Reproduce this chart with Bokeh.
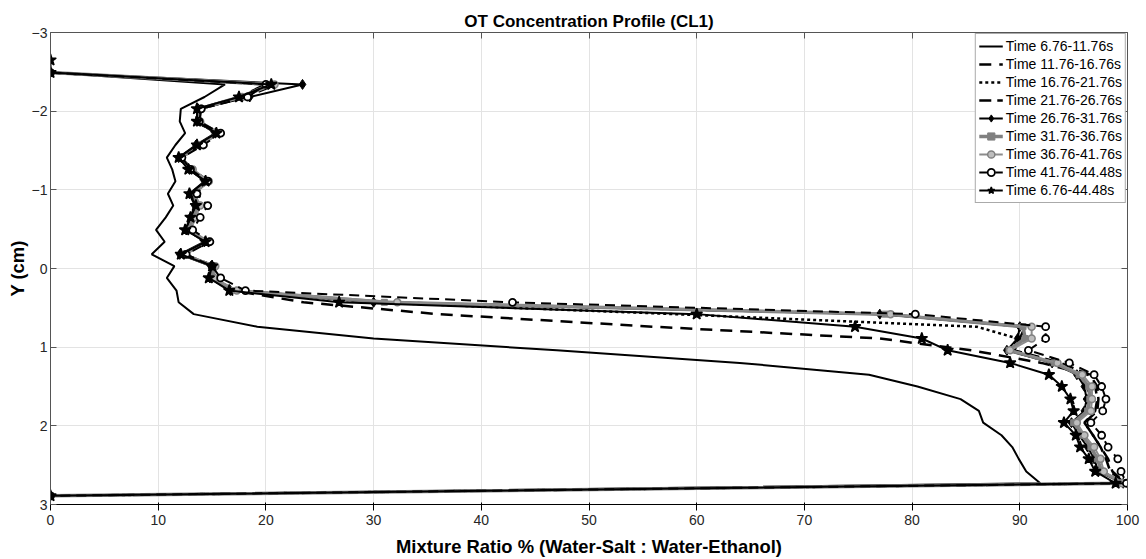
from bokeh.plotting import figure
from bokeh.models import Range1d, FixedTicker, LinearAxis, Legend, LegendItem
from bokeh.embed import file_html
from bokeh.resources import INLINE

nan = float("nan")

# Depth levels (cm), top to bottom
y_cm = [-2.65, -2.49, -2.34, -2.18, -2.03, -1.87, -1.72, -1.57, -1.41, -1.26,
        -1.11, -0.95, -0.80, -0.65, -0.49, -0.34, -0.18, -0.03, 0.12, 0.28,
        0.43, 0.58, 0.74, 0.89, 1.04, 1.20, 1.35, 1.50, 1.66, 1.81,
        1.96, 2.12, 2.27, 2.42, 2.58, 2.73, 2.89]

# Mixture ratio (%) per time window
t_06_11 = [nan, 0, 16.2, 14.3, 12.1, 12.0, 12.5, 11.6, 10.8, 11.3,
           11.6, 10.9, 11.4, 10.7, 9.8, 10.6, 9.4, 11.5, 10.8, 11.7,
           11.9, 13.3, 19.2, 30.0, 47.0, 64.0, 76.0, 80.5, 84.5, 86.2,
           86.6, 88.3, 89.3, 89.9, 90.6, 91.9, 0]
t_11_16 = [nan, 0, 20.0, 17.5, 13.8, 13.4, 15.6, 13.8, 12.1, 13.0,
           14.6, 13.1, 13.7, 13.2, 12.7, 14.6, 12.3, 15.2, 14.9, 17.0,
           23.5, 36.0, 56.0, 77.0, 85.5, 92.0, 96.3, 97.0, 97.2, 97.0,
           96.0, 96.8, 97.5, 98.2, 98.6, 99.8, 0]
t_16_21 = [nan, 0, 20.5, 17.8, 13.7, 13.5, 15.5, 13.7, 12.0, 12.9,
           14.5, 13.0, 13.6, 13.1, 12.6, 14.5, 12.2, 15.1, 14.8, 16.8,
           30.0, 58.0, 86.0, 89.8, 89.0, 93.0, 95.5, 96.3, 96.4, 96.3,
           95.0, 95.8, 96.6, 97.2, 97.6, 99.7, 0]
t_21_26 = [nan, 0, 21.0, 18.0, 13.9, 13.7, 15.7, 13.9, 12.2, 13.1,
           14.7, 13.2, 13.8, 13.3, 12.8, 14.7, 12.4, 15.3, 15.0, 17.2,
           31.0, 77.5, 90.5, 90.0, 89.5, 93.8, 96.5, 97.2, 97.3, 97.2,
           96.0, 96.8, 97.5, 98.0, 98.4, 99.8, 0]
t_26_31 = [nan, 0, 23.4, 18.5, 13.7, 13.6, 15.3, 13.5, 11.9, 12.9,
           14.3, 12.9, 13.4, 13.0, 12.6, 14.3, 12.0, 14.9, 14.8, 16.7,
           30.0, 77.0, 90.0, 89.8, 88.8, 93.0, 95.3, 96.0, 96.2, 96.0,
           94.8, 95.5, 96.3, 96.9, 97.3, 99.6, 0]
t_31_36 = [nan, 0, 20.5, 17.6, 13.8, 13.8, 15.5, 13.8, 12.1, 13.1,
           14.5, 13.2, 13.7, 13.3, 12.8, 14.5, 12.3, 15.1, 15.0, 17.0,
           31.0, 77.5, 90.3, 90.5, 89.0, 93.2, 95.5, 96.4, 96.5, 96.3,
           95.0, 95.8, 96.6, 97.2, 97.6, 99.6, 0]
t_36_41 = [nan, 0, 20.8, 17.8, 14.0, 13.9, 15.7, 14.0, 12.2, 13.2,
           14.7, 13.4, 13.9, 13.5, 13.0, 14.7, 12.5, 15.3, 15.2, 17.3,
           32.2, 78.0, 91.1, 91.1, 89.1, 93.5, 95.8, 96.7, 96.7, 96.6,
           95.3, 96.0, 96.9, 97.5, 97.8, 99.5, 0]
t_41_44 = [nan, 0, 20.0, 18.3, 14.0, 13.8, 15.8, 14.2, 12.2, 13.0,
           14.6, 13.6, 14.6, 13.9, 13.2, 14.8, 12.6, 15.0, 15.8, 18.1,
           42.9, 80.3, 92.4, 92.4, 90.8, 94.6, 96.9, 97.6, 98.0, 97.7,
           96.6, 97.6, 98.2, 99.1, 99.4, 99.9, 0]
t_06_44 = [0, 0, 20.5, 17.5, 13.6, 13.6, 15.4, 13.6, 11.9, 12.8,
           14.4, 12.9, 13.5, 13.0, 12.5, 14.4, 12.1, 15.0, 14.7, 16.6,
           26.8, 60.0, 74.7, 80.9, 83.3, 89.1, 92.7, 93.9, 94.7, 95.0,
           94.1, 95.2, 95.6, 96.4, 97.0, 98.9, 0]

labels = ["Time 6.76-11.76s", "Time 11.76-16.76s", "Time 16.76-21.76s",
          "Time 21.76-26.76s", "Time 26.76-31.76s", "Time 31.76-36.76s",
          "Time 36.76-41.76s", "Time 41.76-44.48s", "Time 6.76-44.48s"]
x_ticks = [0, 10, 20, 30, 40, 50, 60, 70, 80, 90, 100]
y_ticks = [-3, -2, -1, 0, 1, 2, 3]
y_tick_text = ["\u22123", "\u22122", "\u22121", "0", "1", "2", "3"]

FONT = "Liberation Sans"
INK = "#262626"

p = figure(width=1146, height=559, output_backend="svg", toolbar_location=None,
           x_range=Range1d(0, 100), y_range=Range1d(3, -3),
           min_border_left=50, min_border_right=19, min_border_top=32,
           min_border_bottom=53, title="OT Concentration Profile (CL1)")
p.background_fill_color = "white"
p.border_fill_color = "white"
p.outline_line_color = None

p.title.align = "center"
p.title.text_font = FONT
p.title.text_font_size = "17px"
p.title.text_font_style = "bold"
p.title.text_color = "#000000"
p.title.standoff = 4

for ax in [p.xaxis[0], p.yaxis[0]]:
    ax.major_label_text_font = FONT
    ax.major_label_text_font_size = "14px"
    ax.major_label_text_color = INK
    ax.axis_label_text_font = FONT
    ax.axis_label_text_font_size = "18.4px"
    ax.axis_label_text_font_style = "bold"
    ax.axis_label_text_color = "#000000"

p.xaxis[0].ticker = FixedTicker(ticks=x_ticks)
p.yaxis[0].ticker = FixedTicker(ticks=y_ticks)
p.yaxis[0].major_label_overrides = dict(zip(y_ticks, y_tick_text))
p.xaxis[0].axis_label = "Mixture Ratio % (Water-Salt : Water-Ethanol)"
p.yaxis[0].axis_label = "Y (cm)"
p.xaxis[0].major_label_standoff = 4
p.yaxis[0].major_label_standoff = 3
p.xaxis[0].axis_label_standoff = 8
p.yaxis[0].axis_label_standoff = 1

top_ax = LinearAxis(ticker=FixedTicker(ticks=x_ticks))
right_ax = LinearAxis(ticker=FixedTicker(ticks=y_ticks))
p.add_layout(top_ax, "above")
p.add_layout(right_ax, "right")
for ax in [top_ax, right_ax]:
    ax.major_label_text_color = None
    ax.major_label_text_font_size = "1px"
    ax.major_label_standoff = 0
for ax in [p.xaxis[0], p.yaxis[0], top_ax, right_ax]:
    ax.axis_line_color = "#555555"
    ax.major_tick_line_color = "#555555"
    ax.major_tick_in = 6
    ax.major_tick_out = 0
    ax.minor_tick_line_color = None

p.xgrid.ticker = FixedTicker(ticks=x_ticks)
p.ygrid.ticker = FixedTicker(ticks=y_ticks)
p.xgrid.grid_line_color = "#e3e3e3"
p.ygrid.grid_line_color = "#e3e3e3"

items = []

def add(xs, label, color, width, dash="solid", marker=None, msize=7,
        mline=None, mfill=None, mwidth=1.0):
    rs = [p.line(xs, y_cm, line_color=color, line_width=width, line_dash=dash)]
    if marker is not None:
        rs.append(p.scatter(xs, y_cm, marker=marker, size=msize,
                            line_color=mline or color, fill_color=mfill or color,
                            line_width=mwidth))
    items.append(LegendItem(label=label, renderers=rs))

add(t_06_11, labels[0], "#000000", 2)
add(t_11_16, labels[1], "#000000", 2.5, dash="12 8")
add(t_16_21, labels[2], "#000000", 2.5, dash="3 3")
add(t_21_26, labels[3], "#000000", 2.5, dash="12 6")
add(t_26_31, labels[4], "#000000", 2, marker="diamond", msize=10)
add(t_31_36, labels[5], "#808080", 3.5, marker="square", msize=6)
add(t_36_41, labels[6], "#8c8c8c", 2, marker="circle", msize=7,
    mline="#808080", mfill="#bdbdbd", mwidth=1.5)
add(t_41_44, labels[7], "#000000", 2, dash="10 6", marker="circle", msize=7,
    mline="#000000", mfill="#ffffff", mwidth=1.8)
add(t_06_44, labels[8], "#000000", 2, marker="star", msize=12, mwidth=1.5)

legend = Legend(items=items, location="top_right")
legend.label_text_font = FONT
legend.label_text_font_size = "14px"
legend.label_text_color = "#000000"
legend.label_height = 18
legend.glyph_height = 18
legend.glyph_width = 24
legend.label_standoff = 3
legend.spacing = 0
legend.padding = 3
legend.margin = 1
legend.border_line_color = "#555555"
legend.border_line_width = 1
legend.background_fill_color = "white"
legend.background_fill_alpha = 1.0
p.add_layout(legend)

open("out.html", "w").write(file_html(p, INLINE))
